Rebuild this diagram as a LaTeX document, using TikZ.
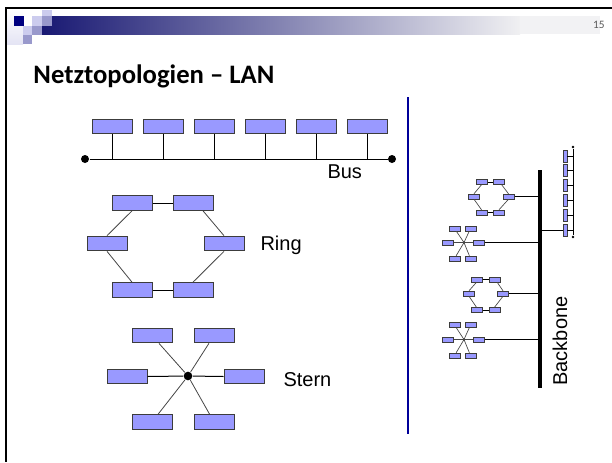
\documentclass[tikz,border=0pt]{standalone}
\usepackage{fontspec}
\newfontfamily\labelfont{Liberation Sans}
\newfontfamily\titlefont{Carlito}

\tikzset{every picture/.style={line width=0.75pt}}
\tikzset{
  pc/.style={draw={rgb, 255:red, 60; green, 60; blue, 60 }, fill={rgb, 255:red, 153; green, 153; blue, 255 }, inner sep=0pt, minimum width=30pt, minimum height=11pt},
  minipc/.style={pc, minimum width=8.5pt, minimum height=3.6pt, line width=0.5pt},
  vminipc/.style={pc, minimum width=3pt, minimum height=9pt, line width=0.5pt},
  slant/.style={draw={rgb, 255:red, 70; green, 70; blue, 70 }, line width=0.6pt},
  minilink/.style={line width=0.5pt},
  hub/.style={circle, fill=black, inner sep=0pt, minimum size=6.5pt},
  minihub/.style={circle, fill=black, inner sep=0pt, minimum size=2pt},
  lbl/.style={font=\labelfont\fontsize{15}{18}\selectfont, inner sep=0pt},
}

\begin{document}
\begin{tikzpicture}[x=0.75pt,y=0.75pt,yscale=-1,xscale=1]
\useasboundingbox (0,0) rectangle (612,462);

%Header bar
\shade [left color={rgb, 255:red, 25; green, 25; blue, 115 }, right color={rgb, 255:red, 240; green, 240; blue, 242 }] (42,16) rectangle (520,34);
\fill [color={rgb, 255:red, 242; green, 242; blue, 244 }] (520,16) rectangle (600,34);
\shade [top color=white, bottom color={rgb, 255:red, 228; green, 228; blue, 244 }] (7,10) rectangle (23,44);
%Shape: Squares
\fill [color={rgb, 255:red, 0; green, 0; blue, 128 }] (14,16) rectangle (24,26);
\fill [color={rgb, 255:red, 204; green, 204; blue, 238 }] (32,16) rectangle (42,26);
\fill [color={rgb, 255:red, 204; green, 204; blue, 238 }] (42,10) rectangle (52,16);
\fill [color={rgb, 255:red, 153; green, 153; blue, 204 }] (42,16) rectangle (52,26);
\fill [color={rgb, 255:red, 204; green, 204; blue, 238 }] (23,26) rectangle (32,35);
\fill [color={rgb, 255:red, 153; green, 153; blue, 204 }] (32,26) rectangle (42,35);
\fill [color={rgb, 255:red, 153; green, 153; blue, 204 }] (23,35) rectangle (32,44);
%Frame
\draw [line width=1.5pt] (6,8) -- (612,8) ;
\draw [line width=1.5pt] (6,7.25) -- (6,462) ;

% Text Node
\node [anchor=base east, inner sep=0pt, text=black!65, font=\titlefont\fontsize{8.5}{10}\selectfont] (pgno) at (605,28.5) {15};
% Text Node
\node [anchor=base west, inner sep=0pt, font=\titlefont\bfseries\fontsize{20}{24}\selectfont] (title) at (33,83) {Netztopologien – LAN};

%Separator
\draw [color={rgb, 255:red, 0; green, 0; blue, 153 }, line width=1pt] (408,97) -- (408,434) ;

%Bus
\node [pc] (b1) at (112,126.5) {};
\node [pc] (b2) at (163,126.5) {};
\node [pc] (b3) at (214,126.5) {};
\node [pc] (b4) at (265,126.5) {};
\node [pc] (b5) at (316,126.5) {};
\node [pc] (b6) at (367,126.5) {};
\node [hub, minimum size=6pt] (busL) at (85,159) {};
\node [hub, minimum size=6pt] (busR) at (392,159) {};
\draw (busL) -- (busR) ;
\foreach \i in {1,...,6}
  \draw (b\i.south) -- (b\i.south |- busL.center) ;
% Text Node
\node [lbl, anchor=base west] (buslbl) at (327,178) {Bus};

%Ring
\node [pc] (r1) at (132,203) {};
\node [pc] (r2) at (193,203) {};
\node [pc] (r3) at (224,243.5) {};
\node [pc] (r4) at (193,290) {};
\node [pc] (r5) at (132,290) {};
\node [pc] (r6) at (107,243.5) {};
\draw (r1.east) -- (r2.west) ;
\draw [slant] ([xshift=7.5pt]r2.south) -- (r3.north) ;
\draw [slant] (r3.south) -- (r4.north) ;
\draw (r4.west) -- (r5.east) ;
\draw [slant] (r5.north) -- (r6.south) ;
\draw [slant] (r6.north) -- (r1.south) ;
% Text Node
\node [lbl, anchor=base west] (ringlbl) at (260,250) {Ring};

%Star
\node [hub] (s0) at (188,376) {};
\node [pc] (s1) at (152,335.5) {};
\node [pc] (s2) at (214,335.5) {};
\node [pc] (s3) at (244,376.5) {};
\node [pc] (s4) at (214,422) {};
\node [pc] (s5) at (152,422) {};
\node [pc] (s6) at (127,376.5) {};
\draw [slant] (s0) -- (s1) ;
\draw [slant] (s0) -- (s2) ;
\draw (s0) -- (s3.west) ;
\draw [slant] (s0) -- (s4) ;
\draw [slant] (s0) -- (s5) ;
\draw (s0) -- (s6.east) ;
% Text Node
\node [lbl, anchor=base west] (sternlbl) at (283,386) {Stern};

%Backbone
\coordinate (bbT) at (540,170) ;
\coordinate (bbB) at (540,388) ;
\draw [line width=3pt] (bbT) -- (bbB) ;
% Text Node
\node [lbl, rotate=90] (bblbl) at (560,341) {Backbone};

%Small bus
\node [minihub] (vbT) at (573,147) {};
\node [minihub] (vbB) at (573,237) {};
\draw [minilink] (vbT) -- (vbB) ;
\node [vminipc] (v1) at (565,156) {};
\node [vminipc] (v2) at (565,170.5) {};
\node [vminipc] (v3) at (565,185) {};
\node [vminipc] (v4) at (565,200) {};
\node [vminipc] (v5) at (565,215) {};
\node [vminipc] (v6) at (565,230) {};
\foreach \i in {1,...,6}
  \draw [minilink] (v\i.east) -- (v\i.east -| vbT) ;
\draw [minilink] (v6.west) -- (v6.west -| bbT) ;

%Small ring 1
\node [minipc] (ra1) at (481.5,182) {};
\node [minipc] (ra2) at (499,182) {};
\node [minipc] (ra3) at (508.5,196.5) {};
\node [minipc] (ra4) at (499,212.5) {};
\node [minipc] (ra5) at (481.5,212.5) {};
\node [minipc] (ra6) at (474,196.5) {};
\draw [minilink] (ra1.east) -- (ra2.west) ;
\draw [slant, minilink] ([xshift=2pt]ra2.south) -- (ra3.north) ;
\draw [slant, minilink] (ra3.south) -- (ra4.north) ;
\draw [minilink] (ra4.west) -- (ra5.east) ;
\draw [slant, minilink] (ra5.north) -- (ra6.south) ;
\draw [slant, minilink] (ra6.north) -- (ra1.south) ;
\draw [minilink] (ra3.east) -- (ra3.east -| bbT) ;

%Small star 1
\node [minihub] (sa0) at (464,242.5) {};
\node [minipc] (sa1) at (454.5,228.5) {};
\node [minipc] (sa2) at (470.5,228.5) {};
\node [minipc] (sa3) at (478.5,242.5) {};
\node [minipc] (sa4) at (470.5,258.5) {};
\node [minipc] (sa5) at (454.5,258.5) {};
\node [minipc] (sa6) at (448,242.5) {};
\foreach \i in {1,...,6}
  \draw [slant, minilink] (sa0.center) -- (sa\i) ;
\draw [minilink] (sa3.east) -- (sa3.east -| bbT) ;

%Small ring 2
\node [minipc] (rb1) at (476.5,279.5) {};
\node [minipc] (rb2) at (494.5,279.5) {};
\node [minipc] (rb3) at (503,293.5) {};
\node [minipc] (rb4) at (494.5,310) {};
\node [minipc] (rb5) at (476.5,310) {};
\node [minipc] (rb6) at (469,293.5) {};
\draw [minilink] (rb1.east) -- (rb2.west) ;
\draw [slant, minilink] ([xshift=2pt]rb2.south) -- (rb3.north) ;
\draw [slant, minilink] (rb3.south) -- (rb4.north) ;
\draw [minilink] (rb4.west) -- (rb5.east) ;
\draw [slant, minilink] (rb5.north) -- (rb6.south) ;
\draw [slant, minilink] (rb6.north) -- (rb1.south) ;
\draw [minilink] (rb3.east) -- (rb3.east -| bbT) ;

%Small star 2
\node [minihub] (sb0) at (464,339.5) {};
\node [minipc] (sb1) at (454.5,325) {};
\node [minipc] (sb2) at (470.5,325) {};
\node [minipc] (sb3) at (478.5,339.5) {};
\node [minipc] (sb4) at (470.5,355.5) {};
\node [minipc] (sb5) at (454.5,355.5) {};
\node [minipc] (sb6) at (448,339.5) {};
\foreach \i in {1,...,6}
  \draw [slant, minilink] (sb0.center) -- (sb\i) ;
\draw [minilink] (sb3.east) -- (sb3.east -| bbT) ;

\end{tikzpicture}
\end{document}
